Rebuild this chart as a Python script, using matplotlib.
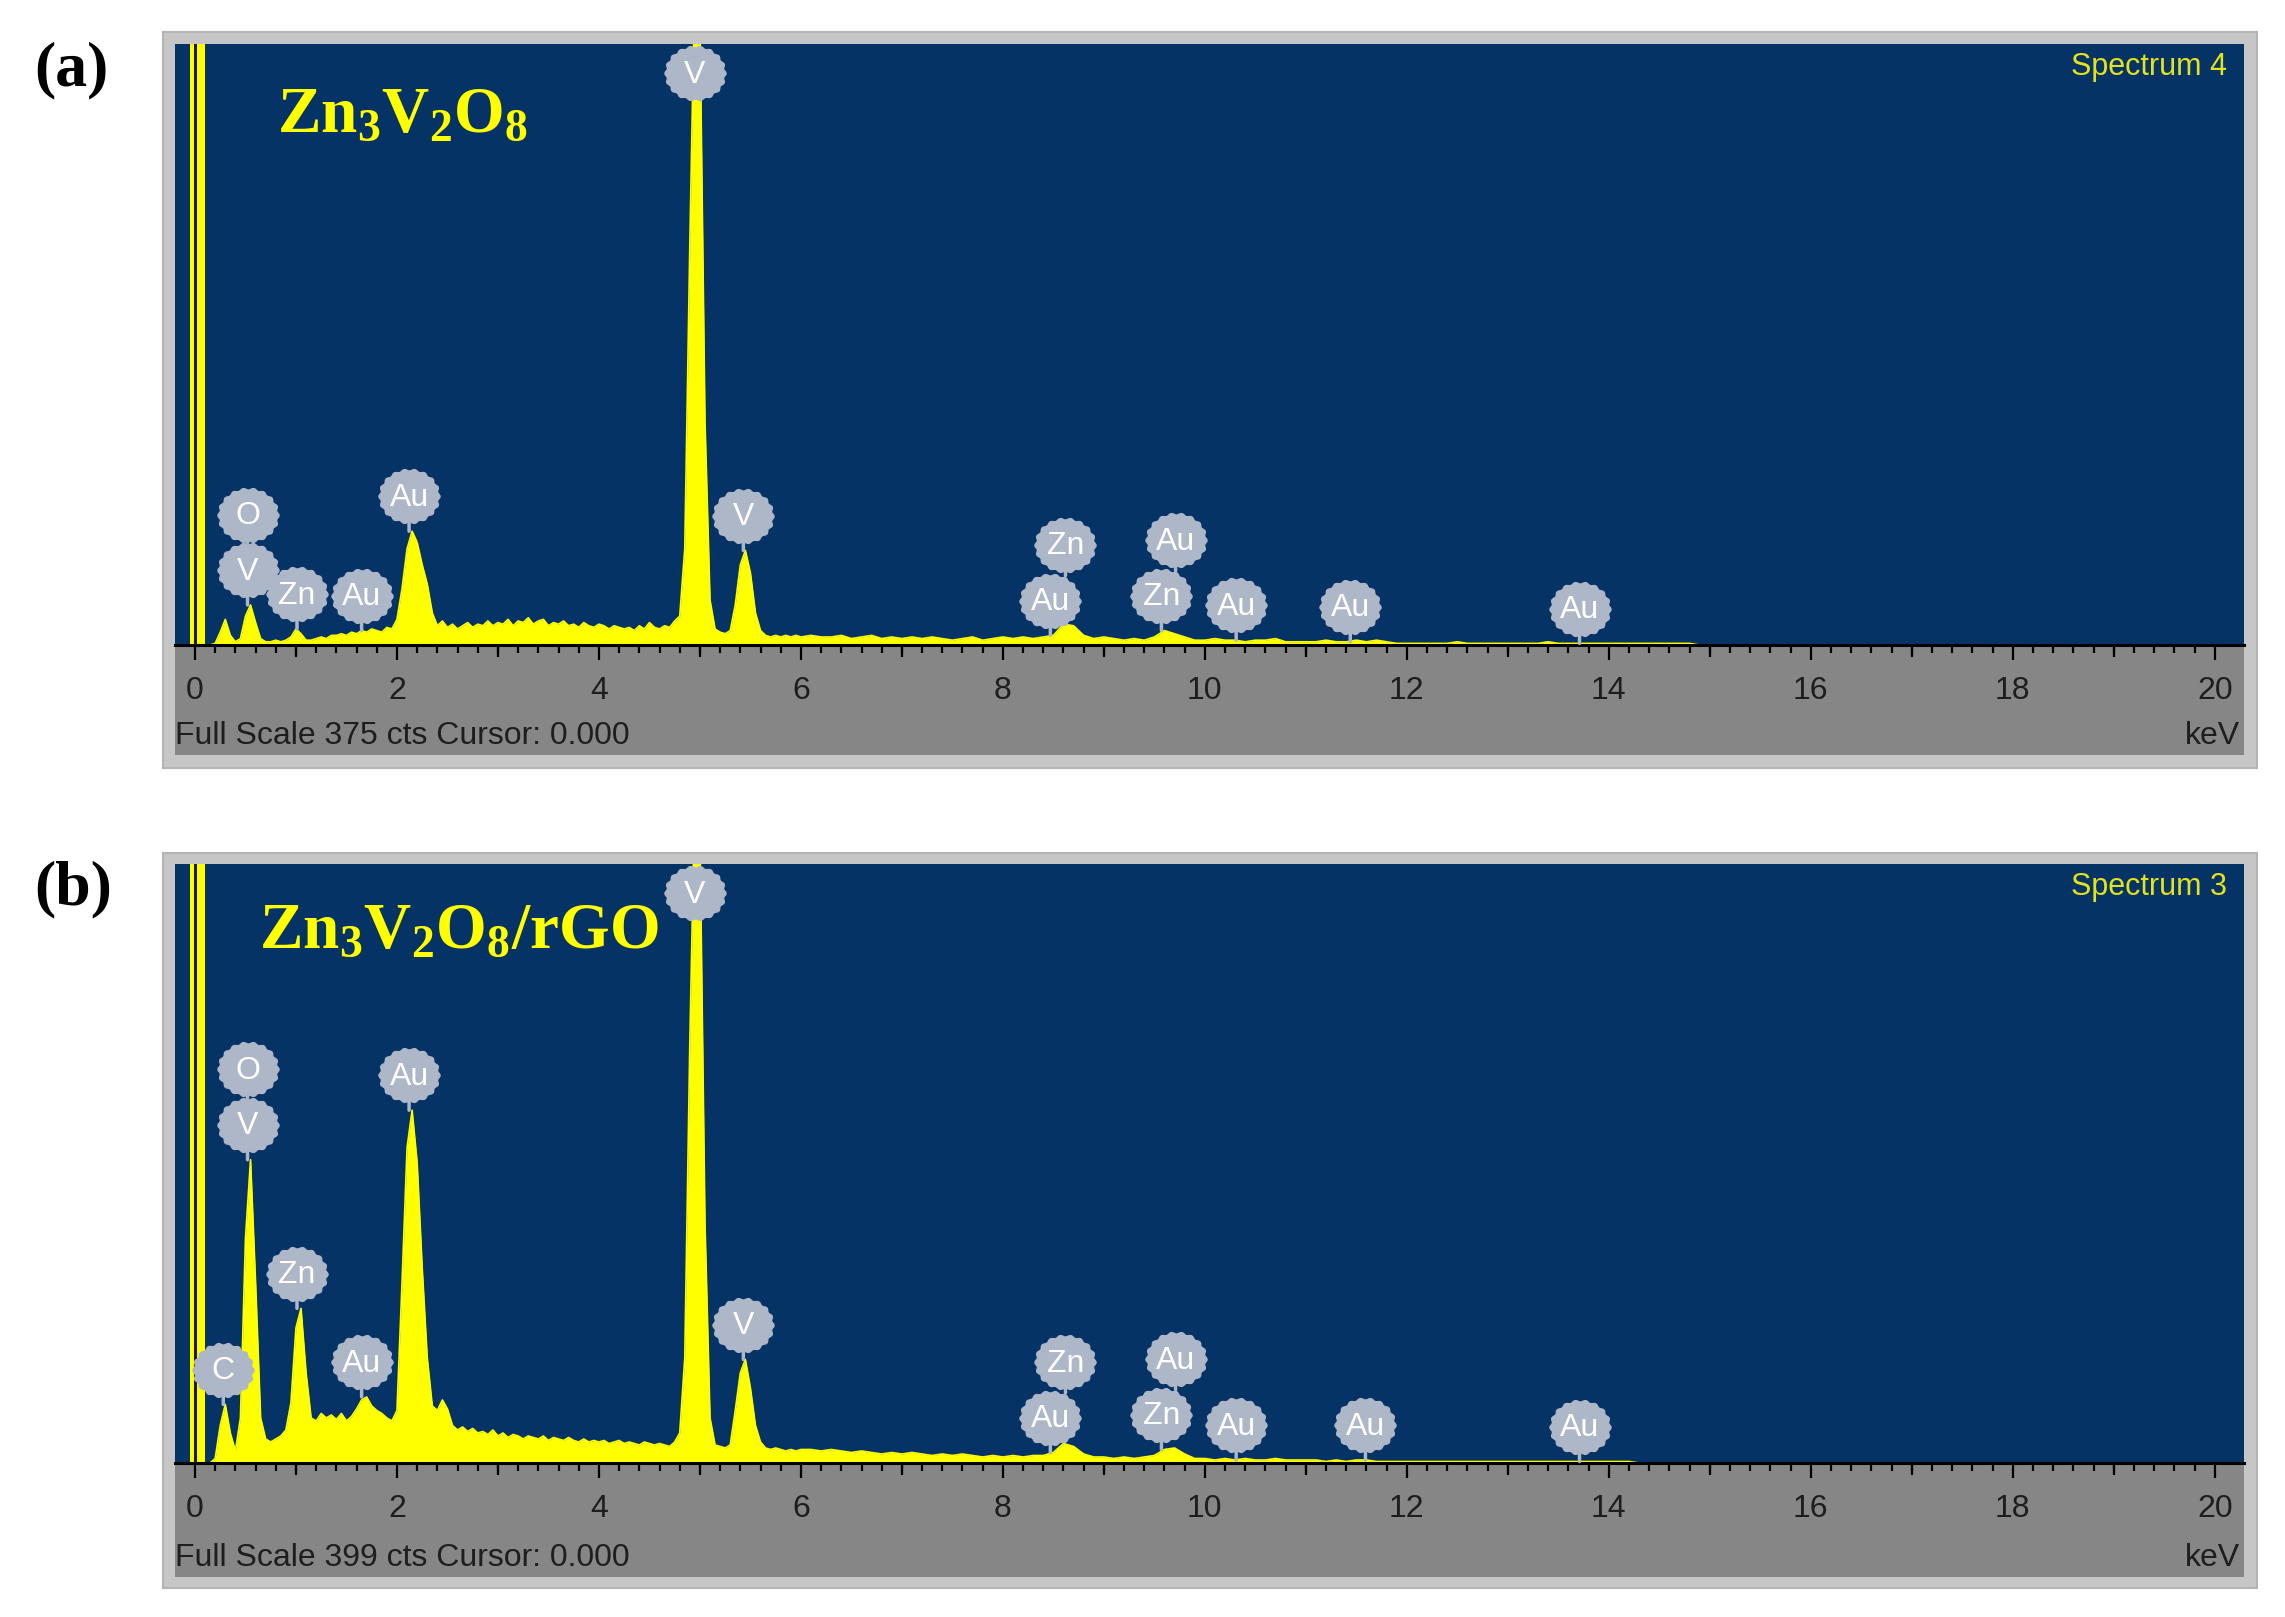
import numpy as np
import matplotlib
matplotlib.use('Agg')
import matplotlib.pyplot as plt
from matplotlib.path import Path
from matplotlib.patches import Rectangle
from matplotlib.transforms import offset_copy

plt.rcParams['mathtext.fontset'] = 'custom'
plt.rcParams['mathtext.rm'] = 'Liberation Serif'
plt.rcParams['mathtext.bf'] = 'Liberation Serif:bold'

# energy grids (keV): fine below 6 keV, coarser above
energy_low = np.round(np.arange(0.15, 6.0001, 0.05), 2)
energy_high = np.round(np.arange(6.1, 15.0001, 0.1), 1)

# panel (a) Zn3V2O8, counts
counts_a_low = [0, 1, 8, 16, 6, 2, 4, 18, 25, 14,
                4, 2, 2, 3, 2, 3, 5, 10, 7, 3,
                3, 4, 5, 4, 6, 6, 7, 6, 8, 7,
                9, 8, 10, 9, 8, 11, 10, 16, 35, 60,
                71, 64, 50, 38, 20, 12, 15, 11, 13, 10,
                12, 14, 11, 13, 12, 15, 12, 14, 13, 16,
                12, 15, 14, 17, 13, 15, 16, 12, 14, 13,
                15, 12, 13, 11, 14, 12, 11, 13, 12, 10,
                12, 11, 10, 11, 9, 12, 10, 14, 11, 10,
                12, 11, 15, 18, 60, 250, 420, 390, 140, 28,
                10, 8, 7, 9, 25, 50, 59, 45, 20, 9,
                6, 5, 6, 5, 6, 5, 6, 5]
counts_a_high = [6, 5, 5, 6, 4, 5, 6, 4, 5, 4,
                 5, 4, 5, 4, 3, 4, 5, 3, 4, 5,
                 4, 5, 4, 5, 6, 13, 12, 6, 4, 5,
                 4, 3, 4, 3, 5, 9, 7, 5, 3, 3,
                 4, 3, 3, 2, 3, 3, 4, 2, 2, 2,
                 2, 3, 2, 2, 3, 2, 3, 2, 1, 1,
                 1, 1, 1, 1, 2, 1, 1, 1, 1, 1,
                 1, 1, 1, 2, 1, 1, 1, 1, 1, 1,
                 1, 1, 1, 1, 1, 1, 1, 1, 0, 0]

# panel (b) Zn3V2O8/rGO
counts_b_low = [0, 3, 25, 39, 20, 8, 30, 150, 202, 120,
                30, 16, 14, 16, 18, 22, 40, 90, 103, 60,
                30, 28, 33, 30, 32, 29, 33, 28, 31, 36,
                42, 44, 38, 35, 33, 30, 28, 35, 120, 210,
                235, 200, 130, 70, 38, 35, 42, 36, 25, 22,
                24, 21, 23, 20, 21, 19, 22, 18, 20, 17,
                19, 18, 16, 18, 17, 16, 18, 15, 17, 16,
                15, 17, 15, 14, 16, 14, 15, 14, 15, 13,
                14, 15, 13, 14, 13, 12, 14, 13, 12, 13,
                12, 11, 14, 20, 70, 280, 450, 420, 160, 30,
                12, 11, 10, 12, 35, 60, 69, 50, 25, 14,
                10, 9, 10, 9, 8, 9, 8, 9]
counts_b_high = [9, 8, 9, 8, 7, 8, 7, 6, 7, 6,
                 7, 6, 5, 6, 5, 6, 5, 4, 5, 4,
                 5, 4, 5, 5, 7, 13, 11, 6, 4, 4,
                 3, 4, 3, 4, 5, 9, 10, 6, 3, 3,
                 2, 3, 2, 3, 2, 2, 3, 2, 2, 2,
                 2, 1, 2, 1, 2, 2, 1, 1, 1, 1,
                 1, 1, 1, 1, 1, 1, 1, 1, 1, 1,
                 1, 1, 1, 1, 1, 1, 1, 1, 1, 1,
                 1, 1, 0, 0, 0, 0, 0, 0, 0, 0]

full_scale = [375, 399]
spectrum_names = ['Spectrum 4', 'Spectrum 3']
sample_names = [r'$\mathbf{Zn_3V_2O_8}$', r'$\mathbf{Zn_3V_2O_8/rGO}$']
panel_tags = ['(a)', '(b)']
zero_peak = (-0.05, 0.10)   # off-scale noise peak at 0 keV

# peak labels: (element, keV, stacked on the previous label)
labels_a = [('V', 0.52, False), ('O', 0.52, True), ('Zn', 1.01, False),
            ('Au', 1.65, False), ('Au', 2.12, False), ('V', 4.95, False),
            ('V', 5.43, False), ('Au', 8.47, False), ('Zn', 8.62, True),
            ('Zn', 9.57, False), ('Au', 9.71, True), ('Au', 10.31, False),
            ('Au', 11.44, False), ('Au', 13.71, False)]
labels_b = [('C', 0.28, False), ('V', 0.52, False), ('O', 0.52, True),
            ('Zn', 1.01, False), ('Au', 1.65, False), ('Au', 2.12, False),
            ('V', 4.95, False), ('V', 5.43, False), ('Au', 8.47, False),
            ('Zn', 8.62, True), ('Zn', 9.57, False), ('Au', 9.71, True),
            ('Au', 10.31, False), ('Au', 11.59, False), ('Au', 13.71, False)]

BLUE = '#063366'
YELLOW = '#FFFF00'
BADGE = '#AEB7C8'
BAND = '#868686'
FRAME = '#C6C6C6'
UI_FONT = ['Liberation Sans', 'DejaVu Sans']

W, H = 2285, 1617
fig = plt.figure(figsize=(W / 100, H / 100), dpi=100)


def fx(px):
    return px / W


def fy(py):
    return 1 - py / H


# scalloped badge outline
th = np.linspace(0, 2 * np.pi, 181)
rr = 1 + 0.035 * np.cos(18 * th)
badge_marker = Path(np.c_[1.12 * rr * np.cos(th), rr * np.sin(th)], closed=True)


def draw_badges(ax, energy, counts, labels, top):
    prev = None
    for el, kev, stacked in labels:
        if stacked:
            y0, base_dy = prev
            dy = base_dy + 40
            stem_lo, stem_hi = base_dy + 18, dy - 18
        else:
            near = counts[np.abs(energy - kev) <= 0.06]
            y0 = min(near.max(), top)
            if near.max() >= top:
                dy = -21
                stem_lo = stem_hi = None
            else:
                dy = 25
                stem_lo, stem_hi = 0, 8
            prev = (y0, dy)
        if stem_lo is not None:
            ax.annotate('', xy=(kev, y0),
                        xycoords=offset_copy(ax.transData, fig=fig, y=stem_lo, units='points'),
                        xytext=(kev, y0),
                        textcoords=offset_copy(ax.transData, fig=fig, y=stem_hi, units='points'),
                        arrowprops=dict(arrowstyle='-', color=BADGE, lw=2.5,
                                        shrinkA=0, shrinkB=0),
                        annotation_clip=False, zorder=4)
        tr = offset_copy(ax.transData, fig=fig, y=dy, units='points')
        ax.plot([kev], [y0], marker=badge_marker, ms=44, color=BADGE,
                transform=tr, clip_on=False, zorder=5)
        ax.text(kev, y0 , el, transform=offset_copy(ax.transData, fig=fig, y=dy - 1, units='points'),
                ha='center', va='center', color='white', fontsize=23,
                family=UI_FONT, zorder=6)


panels = [
    dict(top=44, base=645, band=755, frame=(32, 768),
         counts=(counts_a_low, counts_a_high), labels=labels_a,
         title_xy=(277, 114), tag_y=70),
    dict(top=864, base=1463, band=1577, frame=(853, 1588),
         counts=(counts_b_low, counts_b_high), labels=labels_b,
         title_xy=(259, 930), tag_y=889),
]
left, right = 175, 2244

for i, p in enumerate(panels):
    energy = np.concatenate([energy_low, energy_high])
    counts = np.concatenate([np.array(p['counts'][0]), np.array(p['counts'][1])])
    fs = full_scale[i]

    # outer frame and grey axis band
    f0, f1 = p['frame']
    fig.patches.append(Rectangle((fx(163), fy(f1)), fx(2257) - fx(163), (f1 - f0) / H,
                                 transform=fig.transFigure, facecolor=FRAME,
                                 edgecolor='#B4B4B4', lw=1.5, zorder=-3))
    fig.patches.append(Rectangle((fx(left), fy(p['band'])), fx(right) - fx(left),
                                 (p['band'] - p['base']) / H,
                                 transform=fig.transFigure, facecolor=BAND,
                                 edgecolor='none', zorder=-2))

    ax = fig.add_axes([fx(left), fy(p['base']), fx(right) - fx(left),
                       (p['base'] - p['top']) / H])
    ax.set_facecolor(BLUE)
    ax.set_xlim(-0.198, 20.29)
    ax.set_ylim(0, fs)

    ax.axvspan(*zero_peak, color=YELLOW, lw=0, zorder=2)
    ax.axvline(0.0, color='#1A1A1A', lw=2.2, zorder=3)
    ax.fill_between(energy, counts, 0, color=YELLOW, lw=0, zorder=2)
    ax.plot(energy, counts, color=YELLOW, lw=1.2, zorder=2)

    for side in ['top', 'left', 'right']:
        ax.spines[side].set_visible(False)
    ax.spines['bottom'].set_color('black')
    ax.spines['bottom'].set_linewidth(2.2)
    ax.set_yticks([])
    ax.set_xticks(np.arange(0, 21, 2))
    ax.set_xticks(np.arange(0, 20.01, 0.2), minor=True)
    ax.tick_params(axis='x', which='major', length=11, width=1.6, color='black',
                   pad=11, labelsize=23, labelcolor='#1E1E1E')
    ax.tick_params(axis='x', which='minor', length=6, width=1.6, color='black')
    for lab in ax.get_xticklabels():
        lab.set_family(UI_FONT)
    sec = ax.secondary_xaxis('bottom')
    sec.set_xticks(np.arange(1, 20, 2))
    sec.tick_params(length=8.5, width=1.6, color='black', labelbottom=False)
    sec.spines['bottom'].set_visible(False)

    draw_badges(ax, energy, counts, p['labels'], fs)

    # texts
    ax.text(0.992, 0.962, spectrum_names[i], transform=ax.transAxes, ha='right',
            va='center', color='#E2E21E', fontsize=22, family=UI_FONT)
    fig.text(fx(p['title_xy'][0]), fy(p['title_xy'][1]), sample_names[i],
             ha='left', va='center', color=YELLOW, fontsize=47)
    fig.text(fx(175), fy(p['band'] - 19), 'Full Scale %d cts Cursor: 0.000' % fs,
             ha='left', va='center', color='#1E1E1E', fontsize=23, family=UI_FONT)
    fig.text(fx(right - 4), fy(p['band'] - 19), 'keV', ha='right', va='center',
             color='#1E1E1E', fontsize=23, family=UI_FONT)
    fig.text(fx(34), fy(p['tag_y']), panel_tags[i], ha='left', va='center',
             color='black', fontsize=46, fontweight='bold', family='Liberation Serif')

fig.savefig('out.png', dpi=100, facecolor='white')
